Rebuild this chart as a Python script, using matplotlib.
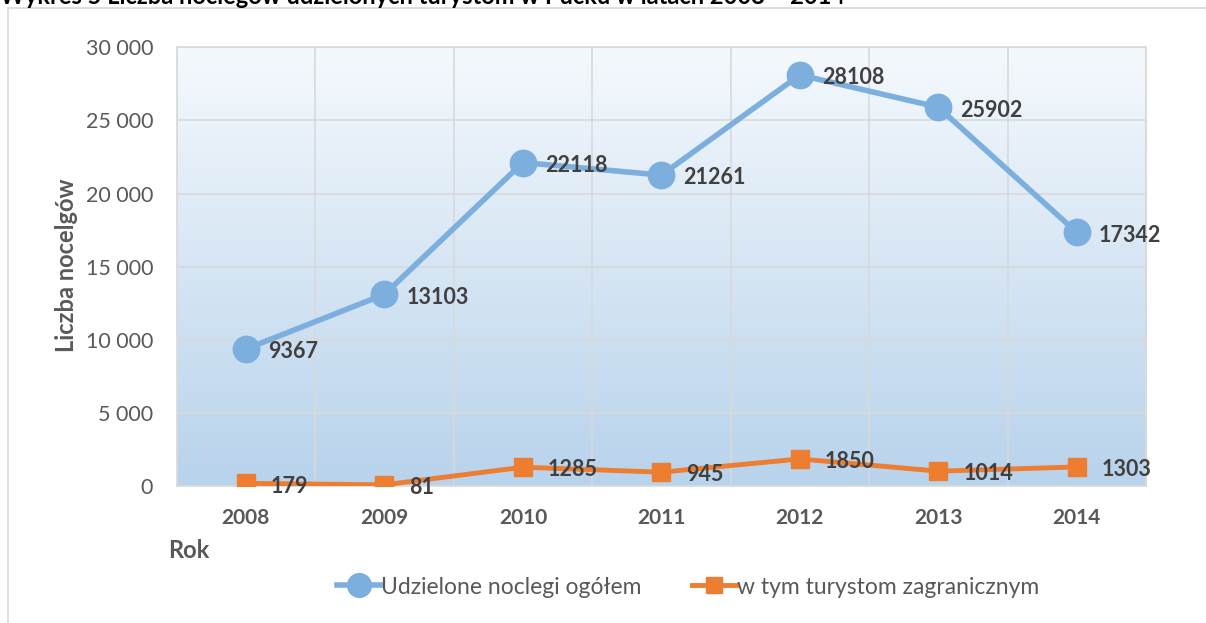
import numpy as np
import matplotlib
matplotlib.use("Agg")
import matplotlib.pyplot as plt
from matplotlib.patches import Rectangle

lata = ["2008", "2009", "2010", "2011", "2012", "2013", "2014"]
ogolem = [9367, 13103, 22118, 21261, 28108, 25902, 17342]
zagraniczni = [179, 81, 1285, 945, 1850, 1014, 1303]
y_ticks = [0, 5000, 10000, 15000, 20000, 25000, 30000]
y_labels = ["0", "5 000", "10 000", "15 000", "20 000", "25 000", "30 000"]

plt.rcParams['font.family'] = ['Lato', 'DejaVu Sans']

blue = '#7cafde'
orange = '#ed7d31'
grey_txt = '#595959'
dark_txt = '#404040'

fig = plt.figure(figsize=(12.06, 6.23), dpi=100)
fig.patch.set_facecolor('white')

# ramka wykresu
fig.patches.append(Rectangle((8/1206, -0.05), 1.2, 1 - 8/623 + 0.05, transform=fig.transFigure,
                             fill=False, edgecolor='#d9d9d9', linewidth=1.2))

# tytul (obciety u gory, tak jak w oryginale)
fig.text(0.0, 1 - 4/623, "Wykres 5 Liczba noclegów udzielonych turystom w Pucku w latach 2008 – 2014",
         fontsize=17, fontweight='bold', color='black', va='baseline', ha='left')

ax = fig.add_axes([176.7/1206, 1 - 486/623, (1146 - 176.7)/1206, (486 - 47.3)/623])

# tlo gradientowe
grad = np.linspace(0, 1, 256).reshape(-1, 1)
c_top = np.array(matplotlib.colors.to_rgb('#f5f9fd'))
c_bot = np.array(matplotlib.colors.to_rgb('#b8d3ec'))
img = c_top + (c_bot - c_top) * grad[:, :, None]
ax.imshow(img, extent=[0, 1, 0, 1], transform=ax.transAxes, aspect='auto', zorder=0)

x = np.arange(len(lata))
ax.set_xlim(-0.5, len(lata) - 0.5)
ax.set_ylim(0, 30000)

ax.set_yticks(y_ticks)
ax.set_yticklabels(y_labels, fontsize=15.5, color=grey_txt)
ax.set_xticks(x)
ax.set_xticklabels(lata, fontsize=15, fontweight='bold', color=grey_txt)
ax.set_xticks(np.arange(-0.5, len(lata), 1), minor=True)
ax.tick_params(axis='y', length=0, pad=17)
ax.tick_params(axis='x', which='both', length=0, pad=16)

ax.grid(True, axis='y', color='#d9d9d9', linewidth=1.2, zorder=1)
ax.grid(True, axis='x', which='minor', color='#d9d9d9', linewidth=1.2, zorder=1)
ax.grid(False, axis='x', which='major')
for s in ax.spines.values():
    s.set_color('#d9d9d9')
    s.set_linewidth(1.2)

l1, = ax.plot(x, ogolem, color=blue, linewidth=4, marker='o', markersize=19, zorder=3,
              label='Udzielone noclegi ogółem')
l2, = ax.plot(x, zagraniczni, color=orange, linewidth=3.5, marker='s', markersize=13, zorder=3,
              label='w tym turystom zagranicznym')

for xi, v in zip(x, ogolem):
    ax.annotate(str(v), (xi, v), xytext=(16, -2), textcoords='offset points',
                fontsize=15.5, fontweight='bold', color=dark_txt, va='center', ha='left', zorder=4)
for xi, v in zip(x, zagraniczni):
    ax.annotate(str(v), (xi, v), xytext=(18, -2), textcoords='offset points',
                fontsize=15.5, fontweight='bold', color=dark_txt, va='center', ha='left', zorder=4)

fig.text(66/1206, 1 - 265/623, "Liczba nocelgów", rotation=90, fontsize=17, fontweight='bold',
         color=grey_txt, ha='center', va='center')
fig.text(168/1206, 1 - 550/623, "Rok", fontsize=17, fontweight='bold',
         color=grey_txt, ha='left', va='center')

leg = fig.legend(handles=[l1, l2], loc='center', bbox_to_anchor=(688/1206, 1 - 587/623),
                 ncol=2, frameon=False, fontsize=16.5, handlelength=1.9, handletextpad=0.05,
                 columnspacing=2.2, markerscale=0.9)
for t in leg.get_texts():
    t.set_color(grey_txt)

fig.savefig('out.png', dpi=100, facecolor='white')
